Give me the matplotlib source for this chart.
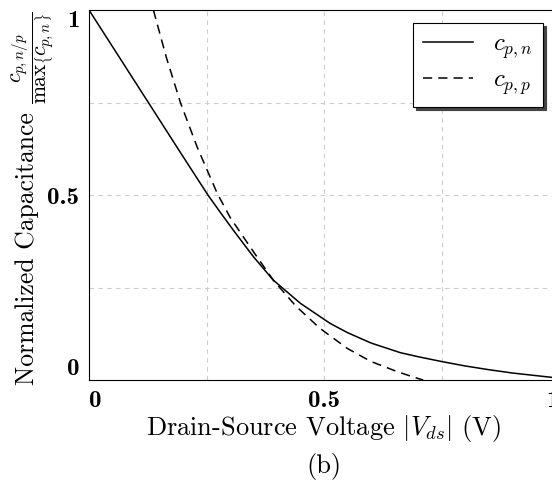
import matplotlib
matplotlib.use("Agg")
import matplotlib.pyplot as plt

# values (normalized capacitance vs |Vds|)
vds_n = [0.0, 0.05, 0.10, 0.15, 0.20, 0.253, 0.28, 0.307, 0.35, 0.392,
         0.45, 0.513, 0.55, 0.60, 0.662, 0.70, 0.75, 0.80, 0.85, 0.90,
         0.95, 1.0]
cap_n = [1.0, 0.901, 0.802, 0.703, 0.604, 0.50, 0.452, 0.405, 0.333, 0.27,
         0.207, 0.153, 0.128, 0.10, 0.074, 0.063, 0.05, 0.038, 0.028, 0.019,
         0.012, 0.005]

vds_p = [0.137, 0.165, 0.195, 0.23, 0.273, 0.30, 0.3426, 0.392, 0.44,
         0.491, 0.55, 0.60, 0.655, 0.69, 0.711]
cap_p = [1.0, 0.87, 0.748, 0.63, 0.504, 0.44, 0.36, 0.27, 0.20,
         0.14, 0.085, 0.05, 0.023, 0.008, 0.0]

ticks = [0, 0.5, 1]
tick_labels = ["0", "0.5", "1"]
grid_pos = [0.25, 0.5, 0.75]

plt.rcParams["mathtext.fontset"] = "cm"
plt.rcParams["font.family"] = ["cmr10", "DejaVu Serif"]
plt.rcParams["axes.unicode_minus"] = False

fig = plt.figure(figsize=(5.52, 4.84), dpi=100)
ax = fig.add_axes([89 / 552, 104 / 484, 470 / 552, 370 / 484])

ax.plot(vds_n, cap_n, color="black", linewidth=1.1, label=r"$c_{p,n}$")
ax.plot(vds_p, cap_p, color="black", linewidth=1.1, dashes=(6, 4),
        label=r"$c_{p,p}$")

for g in grid_pos:
    ax.axvline(g, color="#cccccc", linewidth=0.8, linestyle=(0, (4, 4)), zorder=0)
    ax.axhline(g, color="#cccccc", linewidth=0.8, linestyle=(0, (4, 4)), zorder=0)

ax.set_xlim(0, 1)
ax.set_ylim(0, 1)
ax.set_xticks(ticks)
ax.set_xticklabels(tick_labels, fontsize=18, fontfamily="cmb10")
ax.set_yticks(ticks)
ax.set_yticklabels(tick_labels, fontsize=18, fontfamily="cmb10")
ax.tick_params(length=0)
ax.tick_params(axis="x", pad=7)
ax.tick_params(axis="y", pad=7)

# first/last labels sit inside the axis span, like the reference
xl = ax.get_xticklabels()
xl[0].set_ha("left")
xl[-1].set_ha("right")
yl = ax.get_yticklabels()
yl[0].set_va("bottom")
yl[-1].set_va("top")

ax.set_xlabel(r"Drain-Source Voltage $|V_{ds}|$ (V)", fontsize=19, labelpad=1)

# y label: words plus a display-style fraction at the top
fig.text(27 / 552, 1 - 249 / 484, "Normalized Capacitance", fontsize=18.5,
         rotation=90, ha="center", va="center")
fig.text(33 / 552, 1 - 58 / 484,
         r"$\dfrac{c_{p,n/p}}{\max\left\{c_{p,n}\right\}}$", fontsize=15.5,
         rotation=90, ha="center", va="center")

leg = ax.legend(loc="upper right", bbox_to_anchor=(0.966, 0.965), fontsize=18,
                fancybox=False, shadow={"color": "#444444", "alpha": 1.0},
                framealpha=1, edgecolor="black", handlelength=2.0,
                handletextpad=0.8, borderpad=0.4, labelspacing=0.35,
                borderaxespad=0)
leg.get_frame().set_linewidth(0.8)

fig.text(324 / 552, 18 / 484, "(b)", fontsize=19, ha="center", va="center")

plt.savefig("out.png", dpi=100)
plt.close()
